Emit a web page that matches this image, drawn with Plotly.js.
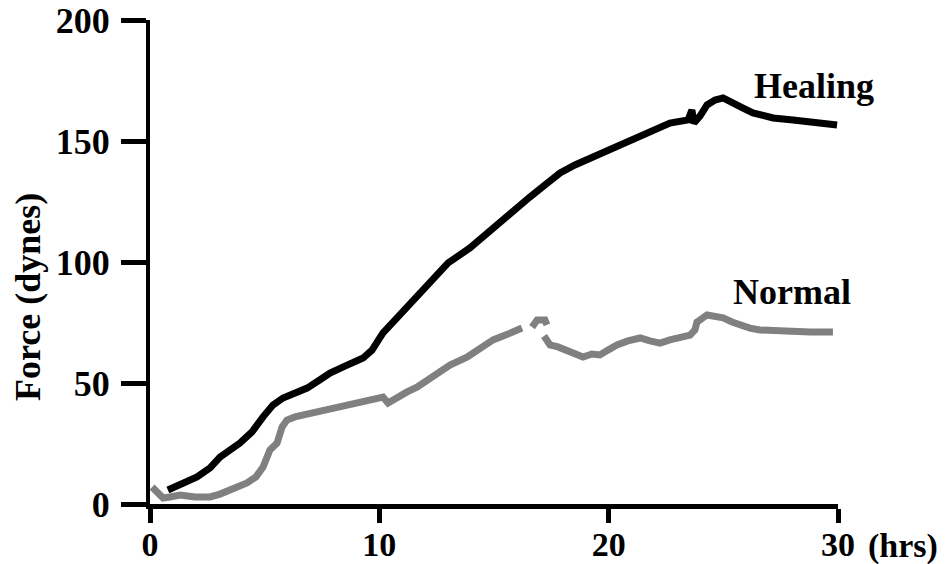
<!DOCTYPE html>
<html>
<head>
<meta charset="utf-8">
<script src="https://cdn.plot.ly/plotly-3.0.1.min.js"></script>
<style>html,body{margin:0;padding:0;background:#fff;}#chart{width:946px;height:564px;}</style>
</head>
<body>
<div id="chart"></div>
<script>
// Healing (black) trace: time in hours, force in dynes
const healingHours = [0.78,1.31,2.05,2.62,3.05,3.92,4.45,4.93,5.36,5.80,6.32,6.85,7.33,7.85,8.50,9.03,9.29,9.68,10.16,10.68,11.21,11.69,12.21,12.65,13.0,13.95,14.83,15.70,16.57,17.22,17.88,18.53,19.32,20.80,21.93,22.67,23.46,23.55,23.63,23.72,23.98,24.29,24.64,24.99,25.42,25.86,26.29,27.17,28.04,28.91,29.96];
const healingForce = [5.8,7.9,11.2,14.9,19.4,25.2,29.8,36.0,40.9,43.8,45.9,47.9,50.8,54.1,57.0,59.5,60.3,63.6,70.7,76.0,81.4,87.2,92.6,96.7,99.6,105.8,113.2,120.3,126.9,131.8,136.8,140.1,143.4,149.2,153.7,157.4,158.7,162.0,162.8,157.4,160.3,164.9,166.9,167.8,166.1,163.6,161.6,159.5,158.7,157.9,156.6];

// Normal (grey) trace: null marks a gap in the record
const normalHours = [0.09,0.35,0.57,0.87,1.31,1.96,2.62,3.05,3.49,4.23,4.62,4.93,5.23,5.54,5.76,5.97,6.32,6.67,7.19,7.85,8.50,9.03,9.59,10.16,10.38,10.77,11.21,11.64,12.34,13.08,13.82,14.39,14.96,15.61,16.22,16.44,16.66,16.88,17.22,17.31,17.25,17.18,17.44,17.79,18.18,18.53,18.88,19.27,19.62,19.97,20.36,20.84,21.37,21.80,22.24,22.67,23.11,23.55,23.76,23.85,24.29,24.64,24.99,25.38,25.73,26.16,26.60,27.25,27.91,28.78,29.78];
const normalForce = [7.0,4.1,2.5,2.9,3.7,2.9,2.9,4.1,5.8,8.7,11.2,15.3,22.3,25.2,31.8,34.7,36.0,36.8,37.6,38.8,40.9,41.7,43.0,44.2,41.7,44.2,46.3,48.3,52.5,57.4,60.7,64.0,67.8,70.2,72.7,null,73.1,76.0,76.0,74.0,null,69.4,65.7,64.9,63.6,62.4,60.7,62.0,61.6,63.6,65.7,67.4,68.6,67.4,66.5,67.8,68.6,69.8,71.9,75.2,78.1,77.7,76.9,75.2,74.0,72.7,71.9,71.5,71.1,71.1,71.1];

const xTicks = [0,10,20,30];
const xTickText = ['0','10','20','30'];
const yTicks = [0,50,100,150,200];
const yTickText = ['0','50','100','150','200'];

const serif = 'Liberation Serif, Times New Roman, serif';
const bold = {family: serif, size: 36, color: '#000', weight: 'bold'};
const boldX = {family: serif, size: 34, color: '#000', weight: 'bold'};

const traces = [
  {x: normalHours, y: normalForce, mode: 'lines', name: 'Normal',
   line: {color: '#808080', width: 7}, connectgaps: false},
  {x: healingHours, y: healingForce, mode: 'lines', name: 'Healing',
   line: {color: '#000000', width: 7}}
];

const layout = {
  width: 946, height: 564,
  margin: {l: 150, r: 108, t: 20, b: 60},
  paper_bgcolor: '#fff', plot_bgcolor: '#fff',
  showlegend: false,
  xaxis: {
    range: [0, 30], showgrid: false, zeroline: false,
    showline: true, linecolor: '#000', linewidth: 5,
    ticks: 'outside', ticklen: 14, tickwidth: 5, tickcolor: '#000',
    tickvals: xTicks, ticktext: xTickText, tickfont: boldX,
    ticklabelstandoff: -8
  },
  yaxis: {
    range: [0, 200], showgrid: false, zeroline: false,
    showline: true, linecolor: '#000', linewidth: 4,
    ticks: 'outside', ticklen: 25, tickwidth: 5, tickcolor: '#000',
    tickvals: yTicks, ticktext: yTickText, tickfont: bold,
    ticklabelstandoff: 4
  },
  annotations: [
    {text: 'Healing', x: 28.96, y: 172.7, xref: 'x', yref: 'y', showarrow: false, font: bold},
    {text: 'Normal', x: 28.0, y: 87.6, xref: 'x', yref: 'y', showarrow: false, font: bold},
    {text: '(hrs)', x: 30, y: 0, xref: 'x', yref: 'paper', xanchor: 'left', yanchor: 'top',
     xshift: 28, yshift: -21, showarrow: false, font: boldX},
    {text: 'Force (dynes)', x: 0, y: 0.5, xref: 'paper', yref: 'paper', textangle: -90,
     xanchor: 'center', yanchor: 'middle', xshift: -122, yshift: -35, showarrow: false, font: bold}
  ]
};

Plotly.newPlot('chart', traces, layout, {displayModeBar: false, staticPlot: true});
</script>
</body>
</html>
